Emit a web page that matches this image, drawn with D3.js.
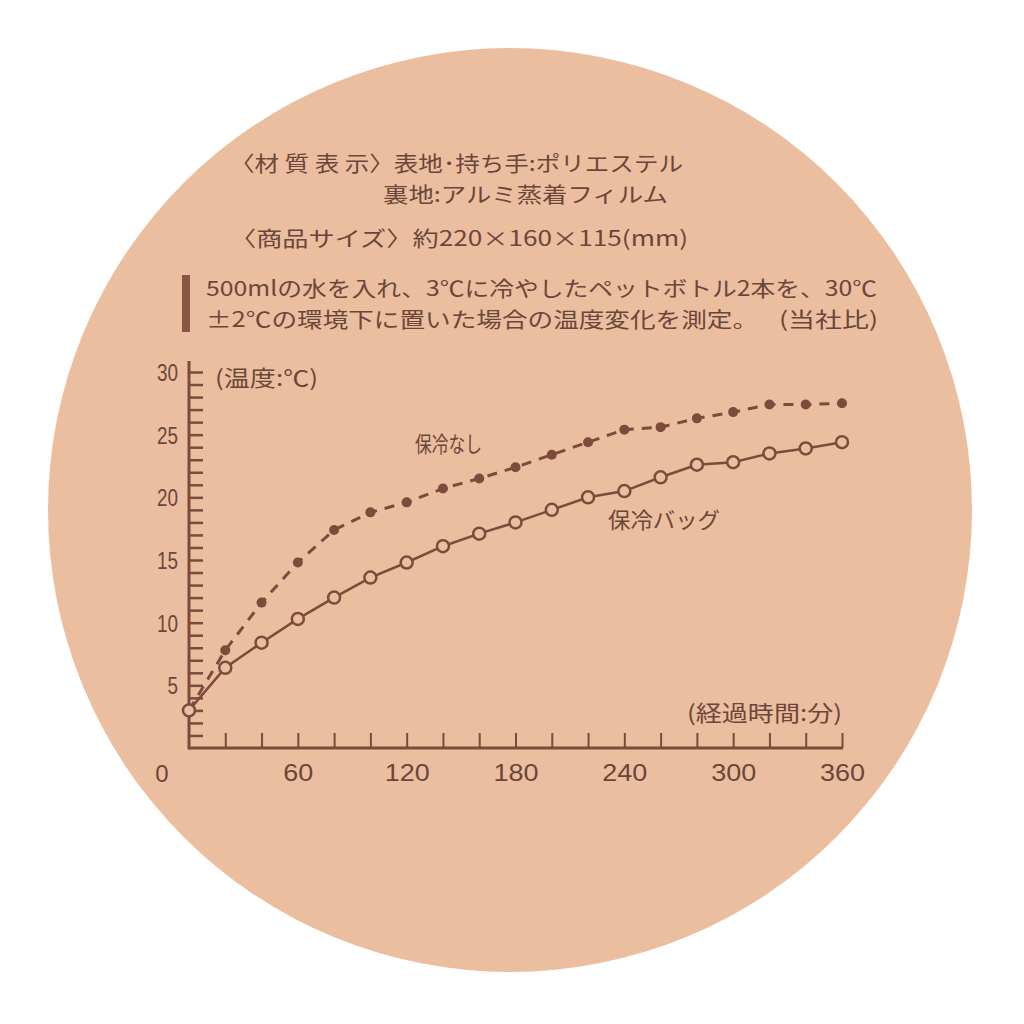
<!DOCTYPE html>
<html><head><meta charset="utf-8">
<script src="https://cdn.jsdelivr.net/npm/d3@7"></script>
<style>
html,body{margin:0;padding:0;background:#fff;}
svg{display:block;}
text{font-family:"Noto Sans CJK JP","Noto Sans",sans-serif;fill:#6b463a;}
.num{font-family:"Liberation Sans","Arimo",sans-serif;}
</style></head>
<body>
<svg id="c" width="1024" height="1024"></svg>
<script>
const times = [0,20,40,60,80,100,120,140,160,180,200,220,240,260,280,300,320,340,360];
const bagTemps = [3.0,6.4,8.4,10.3,12.0,13.6,14.8,16.1,17.1,18.0,19.0,20.0,20.5,21.6,22.6,22.8,23.5,23.9,24.4];
const noneTemps = [3.0,7.8,11.6,14.8,17.4,18.8,19.6,20.7,21.5,22.4,23.4,24.4,25.4,25.6,26.3,26.8,27.4,27.4,27.5];
const xTickLabels = [60,120,180,240,300,360];
const yTickLabels = [5,10,15,20,25,30];
const seriesNames = ["保冷なし","保冷バッグ"];
const infoLines = [
  "〈材 質 表 示〉表地･持ち手:ポリエステル",
  "裏地:アルミ蒸着フィルム",
  "〈商品サイズ〉約220×160×115(mm)",
  "500mlの水を入れ、3℃に冷やしたペットボトル2本を、30℃",
  "±2℃の環境下に置いた場合の温度変化を測定。",
  "(当社比)"
];
const yAxisTitle = "(温度:℃)";
const xAxisTitle = "(経過時間:分)";

const BG = "#ebbe9f", INK = "#6b463a", LINE = "#7c4b3b";
const svg = d3.select("#c");
svg.append("circle").attr("cx",510).attr("cy",510).attr("r",462).attr("fill",BG);

// info text
const info = [
  {t:infoLines[0], x:230, y:171, w:453},
  {t:infoLines[1], x:383, y:202, w:285},
  {t:infoLines[2], x:230, y:246, w:458},
  {t:infoLines[3], x:206, y:296, w:671},
  {t:infoLines[4], x:206, y:327, w:552},
  {t:infoLines[5], x:779, y:327, w:99}
];
svg.selectAll("text.info").data(info).join("text").attr("class","info")
  .attr("x",d=>d.x).attr("y",d=>d.y).attr("font-size",21)
  .attr("textLength",d=>d.w).attr("lengthAdjust","spacingAndGlyphs").text(d=>d.t);
svg.append("rect").attr("x",182).attr("y",275).attr("width",8).attr("height",57).attr("fill","#8a5646");

const x = d3.scaleLinear().domain([0,360]).range([189,842]);
const y = d3.scaleLinear().domain([0,30]).range([748,372]);

// y ticks (inward)
const yTicks = svg.append("g").attr("transform",`translate(${x(0)},0)`)
  .call(d3.axisRight(y).tickValues(d3.range(1,31)).tickSize(14).tickFormat(""));
yTicks.select(".domain").remove();
yTicks.selectAll("line").attr("stroke",LINE).attr("stroke-width",2.5);
// x ticks (upward)
const xTicks = svg.append("g").attr("transform",`translate(0,${y(0)})`)
  .call(d3.axisTop(x).tickValues(d3.range(20,361,20)).tickSize(15).tickFormat(""));
xTicks.select(".domain").remove();
xTicks.selectAll("line").attr("stroke",LINE).attr("stroke-width",2);
// axis lines
svg.append("line").attr("x1",x(0)).attr("x2",x(0)).attr("y1",361).attr("y2",y(0)+1.5)
  .attr("stroke",LINE).attr("stroke-width",3);
svg.append("line").attr("x1",x(0)).attr("x2",x(360)+1).attr("y1",y(0)).attr("y2",y(0))
  .attr("stroke",LINE).attr("stroke-width",3);

// labels
const yLab = svg.append("g").attr("transform",`translate(${x(0)-11},1)`)
  .call(d3.axisLeft(y).tickValues(yTickLabels).tickSize(0).tickPadding(0));
yLab.select(".domain").remove();
yLab.selectAll("text").attr("class","num").attr("font-size",23).attr("fill",INK)
  .attr("textLength",d=>String(d).length*10.5).attr("lengthAdjust","spacingAndGlyphs");
const xLab = svg.append("g").attr("transform",`translate(0,${y(0)+16})`)
  .call(d3.axisBottom(x).tickValues(xTickLabels).tickSize(0).tickPadding(0));
xLab.select(".domain").remove();
xLab.selectAll("text").attr("class","num").attr("font-size",24).attr("fill",INK)
  .attr("textLength",d=>String(d).length*15).attr("lengthAdjust","spacingAndGlyphs");
svg.append("text").attr("class","num").attr("x",x(0)-27).attr("y",782).attr("text-anchor","middle")
  .attr("font-size",24).text("0");

svg.append("text").attr("x",215).attr("y",386).attr("font-size",22)
  .attr("textLength",103).attr("lengthAdjust","spacingAndGlyphs").text(yAxisTitle);
svg.append("text").attr("x",687).attr("y",721).attr("font-size",22)
  .attr("textLength",155).attr("lengthAdjust","spacingAndGlyphs").text(xAxisTitle);
svg.append("text").attr("x",415).attr("y",452).attr("font-size",22)
  .attr("textLength",67).attr("lengthAdjust","spacingAndGlyphs").text(seriesNames[0]);
svg.append("text").attr("x",608).attr("y",528).attr("font-size",22)
  .attr("textLength",112).attr("lengthAdjust","spacingAndGlyphs").text(seriesNames[1]);

const line = d3.line().x(d=>x(d[0])).y(d=>y(d[1]));
const none = times.map((t,i)=>[t,noneTemps[i]]);
const bag = times.map((t,i)=>[t,bagTemps[i]]);

svg.append("path").datum(none).attr("d",line).attr("fill","none")
  .attr("stroke",LINE).attr("stroke-width",3).attr("stroke-dasharray","10,8");
svg.selectAll("circle.none").data(none.slice(1)).join("circle").attr("class","none")
  .attr("cx",d=>x(d[0])).attr("cy",d=>y(d[1])).attr("r",5).attr("fill",LINE);

svg.append("path").datum(bag).attr("d",line).attr("fill","none")
  .attr("stroke",LINE).attr("stroke-width",2.5);
svg.selectAll("circle.bag").data(bag).join("circle").attr("class","bag")
  .attr("cx",d=>x(d[0])).attr("cy",d=>y(d[1])).attr("r",6)
  .attr("fill",BG).attr("stroke",LINE).attr("stroke-width",2.5);
</script>
</body></html>
